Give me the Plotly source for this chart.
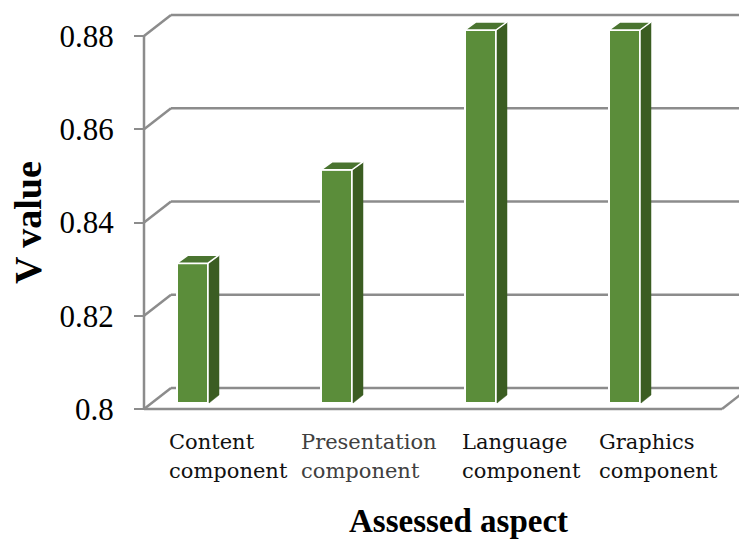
import plotly.graph_objects as go

# ---------------- data ----------------
categories = ["Content<br>component", "Presentation<br>component",
              "Language<br>component", "Graphics<br>component"]
v_values = [0.83, 0.85, 0.88, 0.88]
tick_vals = [0.80, 0.82, 0.84, 0.86, 0.88]
tick_text = ["0.8", "0.82", "0.84", "0.86", "0.88"]
label_colors = ["#111111", "#404040", "#111111", "#111111"]
label_xshift = [-26, -38, -21, -28]

# ---------------- layout constants (pixels) ----------------
W, H = 739, 540
L, R, T, B = 120, 0, 0, 0
PW, PH = W - L - R, H - T - B
CAT0_PX, CAT_STEP_PX = 192.5, 144.0
Y0_PX, STEP_PX = 409.0, 93.25
PY = (tick_vals[1] - tick_vals[0]) / STEP_PX
PXU = 1.0 / CAT_STEP_PX
VMIN = tick_vals[0]


def px_x(p):
    return (p - CAT0_PX) / CAT_STEP_PX


def px_y(p):
    return VMIN + (Y0_PX - p) * PY


def paper_x(p):
    return (p - L) / PW


def paper_y(p):
    return (H - B - p) / PH


XL, XR = px_x(144), px_x(722)        # front plane extent
BX, BY = 27 * PXU, 21 * PY            # depth offset of back wall
BAR_DY = 6 * PY                       # bar plane above front floor
BW = 31 * PXU                         # bar width
SX, SY = 11 * PXU, 8 * PY             # bar depth

GRID = "#8c8c8c"
LW = 2.5
FRONT = "#5b8d3a"
TOP = "#4a7430"
SIDE = "#3b5d22"

fig = go.Figure()

shapes = []
for v in tick_vals:
    shapes.append(dict(type="line", xref="x", yref="y", layer="below",
                       x0=XL + BX, y0=v + BY, x1=XR + BX, y1=v + BY,
                       line=dict(color=GRID, width=LW)))
    shapes.append(dict(type="line", xref="x", yref="y", layer="below",
                       x0=XL, y0=v, x1=XL + BX, y1=v + BY,
                       line=dict(color=GRID, width=LW)))
shapes.append(dict(type="line", xref="x", yref="y", layer="below",
                   x0=XL, y0=tick_vals[0], x1=XL, y1=tick_vals[-1],
                   line=dict(color=GRID, width=LW)))
shapes.append(dict(type="line", xref="x", yref="y", layer="below",
                   x0=XL, y0=VMIN, x1=XR, y1=VMIN,
                   line=dict(color=GRID, width=LW)))
shapes.append(dict(type="line", xref="x", yref="y", layer="below",
                   x0=XR, y0=VMIN, x1=XR + BX, y1=VMIN + BY,
                   line=dict(color=GRID, width=LW)))

xs = list(range(len(v_values)))
base = VMIN + BAR_DY

fig.add_trace(go.Bar(
    x=xs, y=[v - VMIN for v in v_values], base=base, width=BW,
    marker=dict(color=FRONT, line=dict(color="white", width=2)),
    showlegend=False, hoverinfo="skip"))

for x, v in zip(xs, v_values):
    top = v + BAR_DY
    xr = x + BW / 2
    xl = x - BW / 2
    fig.add_trace(go.Scatter(
        x=[xr + 1 * PXU, xr + 1 * PXU, xr + SX, xr + SX, xr + 1 * PXU],
        y=[base, top, top + SY, base + SY, base],
        fill="toself", fillcolor=SIDE, mode="lines",
        line=dict(color=SIDE, width=0.5), showlegend=False, hoverinfo="skip"))
    fig.add_trace(go.Scatter(
        x=[xl, xr, xr + SX, xl + SX, xl],
        y=[top, top, top + SY, top + SY, top],
        fill="toself", fillcolor=TOP, mode="lines",
        line=dict(color="white", width=1.5), showlegend=False, hoverinfo="skip"))

annotations = []
for x, txt, col, sh in zip(xs, categories, label_colors, label_xshift):
    for k, line in enumerate(txt.split("<br>")):
        annotations.append(dict(
            x=x, y=px_y(442 + 29 * k), xref="x", yref="y", text=line,
            showarrow=False, xanchor="left", yanchor="middle", align="left",
            xshift=sh, font=dict(family="DejaVu Serif", size=21, color=col)))

annotations.append(dict(
    x=paper_x(458), y=paper_y(521), xref="paper", yref="paper",
    text="<b>Assessed aspect</b>", showarrow=False,
    xanchor="center", yanchor="middle",
    font=dict(family="Liberation Serif", size=33, color="#000000")))
annotations.append(dict(
    x=paper_x(28), y=paper_y(223), xref="paper", yref="paper",
    text="<b>V value</b>", showarrow=False, xanchor="center", yanchor="middle",
    textangle=-90,
    font=dict(family="Liberation Serif", size=38, color="#000000")))

fig.update_layout(
    width=W, height=H,
    margin=dict(l=L, r=R, t=T, b=B, pad=0),
    paper_bgcolor="white", plot_bgcolor="white",
    shapes=shapes, annotations=annotations,
    barmode="overlay",
    xaxis=dict(range=[px_x(L), px_x(W - R)], showgrid=False, zeroline=False,
               showline=False, showticklabels=False, ticks="", fixedrange=True),
    yaxis=dict(range=[px_y(H - B), px_y(T)], anchor="free",
               position=(144 - L) / PW,
               tickmode="array", tickvals=tick_vals, ticktext=tick_text,
               ticks="outside", ticklen=10, tickwidth=2, tickcolor=GRID,
               ticklabelstandoff=14,
               showgrid=False, zeroline=False, showline=False,
               tickfont=dict(family="Liberation Serif", size=31, color="#000000"),
               fixedrange=True),
)

fig.write_html("out.html")
